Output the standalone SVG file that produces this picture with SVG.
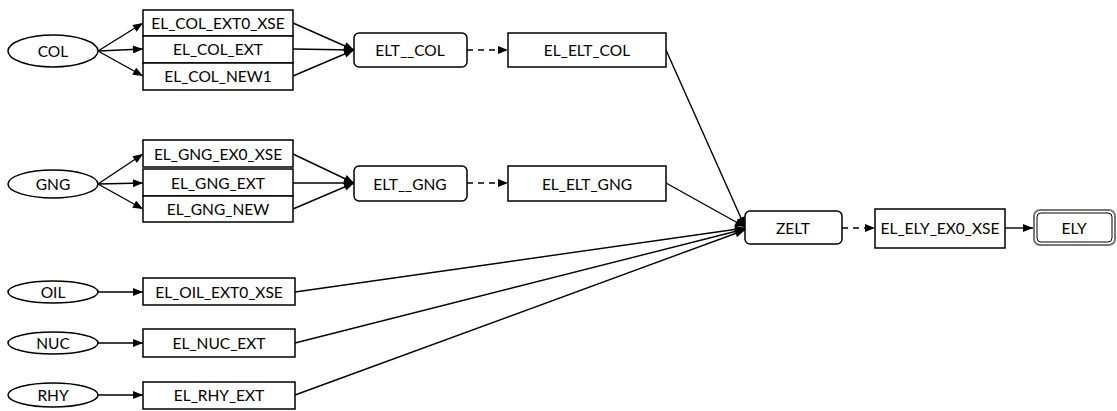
<svg xmlns="http://www.w3.org/2000/svg" width="1117" height="411" viewBox="0 0 1117 411">
<style>
text{font-family:"Lato","Open Sans",sans-serif;font-size:15.5px;fill:#000;text-anchor:middle;dominant-baseline:central}
.n{fill:#fff;stroke:#000;stroke-width:1.5}
.e{fill:none;stroke:#000;stroke-width:1.4}
.d{stroke-dasharray:6,5}
</style>
<defs>
<marker id="a" viewBox="0 0 10 8" refX="10" refY="4" markerWidth="11" markerHeight="8" markerUnits="userSpaceOnUse" orient="auto"><path d="M0,0L10,4L0,8z" fill="#000"/></marker>
</defs>
<g id="connectors">
<line class="e" x1="98" y1="51" x2="143" y2="23" marker-end="url(#a)"/>
<line class="e" x1="98" y1="51" x2="143" y2="49" marker-end="url(#a)"/>
<line class="e" x1="98" y1="51" x2="143" y2="76" marker-end="url(#a)"/>
<line class="e" x1="293" y1="23" x2="354" y2="50" marker-end="url(#a)"/>
<line class="e" x1="293" y1="49" x2="354" y2="50" marker-end="url(#a)"/>
<line class="e" x1="293" y1="76" x2="354" y2="50" marker-end="url(#a)"/>
<line class="e d" x1="467" y1="50" x2="508" y2="50" marker-end="url(#a)"/>
<line class="e" x1="98" y1="184" x2="143" y2="154" marker-end="url(#a)"/>
<line class="e" x1="98" y1="184" x2="143" y2="183" marker-end="url(#a)"/>
<line class="e" x1="98" y1="184" x2="143" y2="209" marker-end="url(#a)"/>
<line class="e" x1="293" y1="154" x2="354" y2="183" marker-end="url(#a)"/>
<line class="e" x1="293" y1="183" x2="354" y2="183" marker-end="url(#a)"/>
<line class="e" x1="293" y1="209" x2="354" y2="183" marker-end="url(#a)"/>
<line class="e d" x1="467" y1="183" x2="508" y2="183" marker-end="url(#a)"/>
<line class="e" x1="98" y1="292" x2="143" y2="292" marker-end="url(#a)"/>
<line class="e" x1="98" y1="343" x2="143" y2="343" marker-end="url(#a)"/>
<line class="e" x1="98" y1="395" x2="143" y2="395" marker-end="url(#a)"/>
<line class="e" x1="666" y1="50" x2="745" y2="227" marker-end="url(#a)"/>
<line class="e" x1="666" y1="183" x2="745" y2="227" marker-end="url(#a)"/>
<line class="e" x1="295" y1="292" x2="745" y2="228" marker-end="url(#a)"/>
<line class="e" x1="295" y1="343" x2="745" y2="229" marker-end="url(#a)"/>
<line class="e" x1="295" y1="395" x2="745" y2="230" marker-end="url(#a)"/>
<line class="e d" x1="842" y1="228" x2="875" y2="228" marker-end="url(#a)"/>
<line class="e" x1="1005" y1="228" x2="1033" y2="228" marker-end="url(#a)"/>
</g>
<g id="COL"><ellipse class="n" cx="53" cy="51" rx="45" ry="16"/><text x="53" y="51">COL</text></g>
<g id="EL_COL_EXT0_XSE"><rect class="n" x="143" y="10" width="150" height="26"/><text x="218" y="23">EL_COL_EXT0_XSE</text></g>
<g id="EL_COL_EXT"><rect class="n" x="143" y="36" width="150" height="27"/><text x="218" y="49">EL_COL_EXT</text></g>
<g id="EL_COL_NEW1"><rect class="n" x="143" y="63" width="150" height="27"/><text x="218" y="76">EL_COL_NEW1</text></g>
<g id="ELT__COL"><rect class="n" x="354" y="33" width="113" height="34" rx="5"/><text x="410" y="50">ELT__COL</text></g>
<g id="EL_ELT_COL"><rect class="n" x="508" y="33" width="158" height="34"/><text x="587" y="50">EL_ELT_COL</text></g>
<g id="GNG"><ellipse class="n" cx="53" cy="184" rx="45" ry="14"/><text x="53" y="184">GNG</text></g>
<g id="EL_GNG_EX0_XSE"><rect class="n" x="143" y="140" width="150" height="27"/><text x="218" y="154">EL_GNG_EX0_XSE</text></g>
<g id="EL_GNG_EXT"><rect class="n" x="143" y="169" width="150" height="27"/><text x="218" y="183">EL_GNG_EXT</text></g>
<g id="EL_GNG_NEW"><rect class="n" x="143" y="196" width="150" height="26"/><text x="218" y="209">EL_GNG_NEW</text></g>
<g id="ELT__GNG"><rect class="n" x="354" y="166" width="113" height="35" rx="5"/><text x="410" y="184">ELT__GNG</text></g>
<g id="EL_ELT_GNG"><rect class="n" x="508" y="166" width="158" height="35"/><text x="587" y="184">EL_ELT_GNG</text></g>
<g id="OIL"><ellipse class="n" cx="53" cy="292" rx="45" ry="11"/><text x="53" y="292">OIL</text></g>
<g id="EL_OIL_EXT0_XSE"><rect class="n" x="143" y="278" width="152" height="27"/><text x="219" y="292">EL_OIL_EXT0_XSE</text></g>
<g id="NUC"><ellipse class="n" cx="53" cy="343" rx="45" ry="11"/><text x="53" y="343">NUC</text></g>
<g id="EL_NUC_EXT"><rect class="n" x="143" y="329" width="152" height="28"/><text x="219" y="343">EL_NUC_EXT</text></g>
<g id="RHY"><ellipse class="n" cx="53" cy="395" rx="45" ry="12"/><text x="53" y="395">RHY</text></g>
<g id="EL_RHY_EXT"><rect class="n" x="143" y="382" width="152" height="27"/><text x="219" y="395">EL_RHY_EXT</text></g>
<g id="ZELT"><rect class="n" x="745" y="211" width="97" height="33" rx="5"/><text x="793" y="228">ZELT</text></g>
<g id="EL_ELY_EX0_XSE"><rect class="n" x="875" y="209" width="130" height="39"/><text x="940" y="228" font-size="16.5">EL_ELY_EX0_XSE</text></g>
<g id="ELY"><rect x="1034" y="210" width="81" height="35" rx="6" fill="#fff" stroke="#777" stroke-width="2"/><rect x="1037" y="213" width="75" height="29" rx="4" fill="none" stroke="#000" stroke-width="1"/><text x="1074" y="228">ELY</text></g>
</svg>
